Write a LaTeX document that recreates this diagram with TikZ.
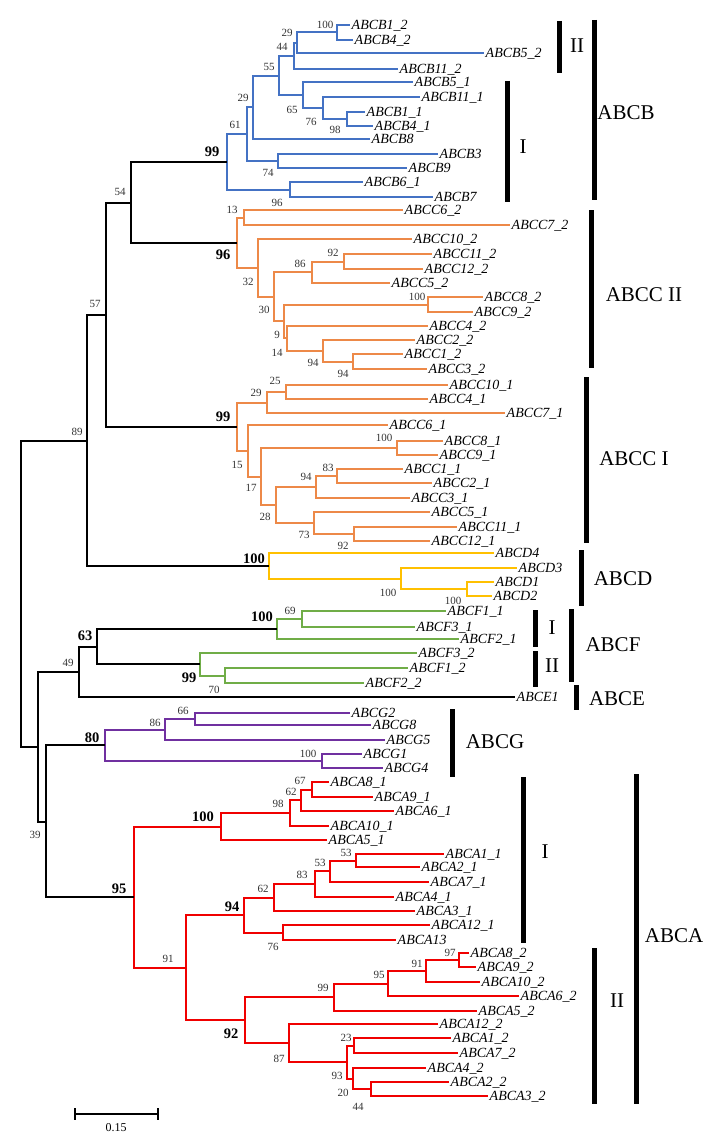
\documentclass[tikz,border=0pt]{standalone}
\usepackage{fontspec}
\setmainfont{Liberation Serif}
\usepackage{xcolor}
\usepackage{tikz}

\definecolor{abcb}{RGB}{68,114,196}
\definecolor{abcc}{RGB}{237,137,72}
\definecolor{abcd}{RGB}{255,192,0}
\definecolor{abcf}{RGB}{112,173,71}
\definecolor{abcg}{RGB}{112,48,160}
\definecolor{abca}{RGB}{240,0,0}

\tikzset{
  leaf/.style = {anchor=west, inner sep=1.5pt, text depth=0pt, font=\fontsize{14}{16}\selectfont\itshape},
  boot/.style = {inner sep=0pt, text=black!80, font=\fontsize{11}{12}\selectfont},
  bootb/.style = {inner sep=0pt, font=\fontsize{14.5}{16}\selectfont\bfseries},
  clade/.style = {inner sep=0pt, font=\fontsize{21}{24}\selectfont},
  bar/.style = {line width=5pt},
  branch/.style = {line width=1.8pt},
}

\begin{document}
\begin{tikzpicture}[x=1pt, y=-1pt]
\useasboundingbox (0,0) rectangle (711,1142);

% ABCB
\node[leaf] (b1-2) at (350,25) {ABCB1\_2};
\node[leaf] (b4-2) at (353,40) {ABCB4\_2};
\node[leaf] (b5-2) at (484,53) {ABCB5\_2};
\node[leaf] (b11-2) at (398,69) {ABCB11\_2};
\node[leaf] (b5-1) at (413,82) {ABCB5\_1};
\node[leaf] (b11-1) at (420,97) {ABCB11\_1};
\node[leaf] (b1-1) at (365,112) {ABCB1\_1};
\node[leaf] (b4-1) at (373,126) {ABCB4\_1};
\node[leaf] (b8) at (370,139) {ABCB8};
\node[leaf] (b3) at (438,154) {ABCB3};
\node[leaf] (b9) at (407,168) {ABCB9};
\node[leaf] (b6-1) at (363,182) {ABCB6\_1};
\node[leaf] (b7) at (433,197) {ABCB7};
\coordinate (nb100) at (337,32);
\coordinate (nb29b) at (297,43);
\coordinate (nb44) at (294,56);
\coordinate (nb98) at (347,119);
\coordinate (nb76) at (323,108);
\coordinate (nb65) at (303,95);
\coordinate (nb55) at (279,76);
\coordinate (nb29) at (253,107);
\coordinate (nb74) at (278,161);
\coordinate (nb61) at (247,134);
\coordinate (nb96) at (290,190);
\coordinate (nb99) at (227,162);
\draw[branch, abcb]
  (nb100) |- (b1-2.west) (nb100) |- (b4-2.west)
  (nb29b) |- (nb100) (nb29b) |- (b5-2.west)
  (nb44) |- (nb29b) (nb44) |- (b11-2.west)
  (nb98) |- (b1-1.west) (nb98) |- (b4-1.west)
  (nb76) |- (b11-1.west) (nb76) |- (nb98)
  (nb65) |- (b5-1.west) (nb65) |- (nb76)
  (nb55) |- (nb44) (nb55) |- (nb65)
  (nb29) |- (nb55) (nb29) |- (b8.west)
  (nb74) |- (b3.west) (nb74) |- (b9.west)
  (nb61) |- (nb29) (nb61) |- (nb74)
  (nb96) |- (b6-1.west) (nb96) |- (b7.west)
  (nb99) |- (nb61) (nb99) |- (nb96);
\node[boot] (snb100) at (325,25) {100};
\node[boot] (snb29b) at (287,33) {29};
\node[boot] (snb44) at (282,47) {44};
\node[boot] (snb55) at (269,67) {55};
\node[boot] (snb29) at (243,98) {29};
\node[boot] (snb65) at (292,110) {65};
\node[boot] (snb76) at (311,122) {76};
\node[boot] (snb98) at (335,130) {98};
\node[boot] (snb61) at (235,125) {61};
\node[boot] (snb74) at (268,173) {74};
\node[boot] (snb96) at (277,203) {96};
\node[bootb] (snb99) at (212,152) {99};

% ABCC II
\node[leaf] (c6-2) at (403,210) {ABCC6\_2};
\node[leaf] (c7-2) at (510,225) {ABCC7\_2};
\node[leaf] (c10-2) at (412,239) {ABCC10\_2};
\node[leaf] (c11-2) at (432,254) {ABCC11\_2};
\node[leaf] (c12-2) at (423,269) {ABCC12\_2};
\node[leaf] (c5-2) at (390,283) {ABCC5\_2};
\node[leaf] (c8-2) at (483,297) {ABCC8\_2};
\node[leaf] (c9-2) at (473,312) {ABCC9\_2};
\node[leaf] (c4-2) at (428,326) {ABCC4\_2};
\node[leaf] (c2-2) at (415,340) {ABCC2\_2};
\node[leaf] (c1-2) at (403,354) {ABCC1\_2};
\node[leaf] (c3-2) at (427,369) {ABCC3\_2};
\coordinate (nc13) at (244,218);
\coordinate (nc92) at (344,262);
\coordinate (nc86) at (312,272);
\coordinate (nc100) at (428,305);
\coordinate (nc94b) at (353,362);
\coordinate (nc94) at (323,351);
\coordinate (nc14) at (287,338);
\coordinate (nc9) at (284,321);
\coordinate (nc30) at (274,297);
\coordinate (nc32) at (258,268);
\coordinate (nc96) at (237,243);
\draw[branch, abcc]
  (nc13) |- (c6-2.west) (nc13) |- (c7-2.west)
  (nc92) |- (c11-2.west) (nc92) |- (c12-2.west)
  (nc86) |- (nc92) (nc86) |- (c5-2.west)
  (nc100) |- (c8-2.west) (nc100) |- (c9-2.west)
  (nc94b) |- (c1-2.west) (nc94b) |- (c3-2.west)
  (nc94) |- (c2-2.west) (nc94) |- (nc94b)
  (nc14) |- (c4-2.west) (nc14) |- (nc94)
  (nc9) |- (nc100) (nc9) |- (nc14)
  (nc30) |- (nc86) (nc30) |- (nc9)
  (nc32) |- (c10-2.west) (nc32) |- (nc30)
  (nc96) |- (nc13) (nc96) |- (nc32);
\node[boot] (snc13) at (232,210) {13};
\node[bootb] (snc96) at (223,255) {96};
\node[boot] (snc32) at (248,282) {32};
\node[boot] (snc86) at (300,264) {86};
\node[boot] (snc92) at (333,253) {92};
\node[boot] (snc30) at (264,310) {30};
\node[boot] (snc100) at (417,297) {100};
\node[boot] (snc9) at (277,335) {9};
\node[boot] (snc14) at (277,353) {14};
\node[boot] (snc94) at (313,363) {94};
\node[boot] (snc94b) at (343,374) {94};

% ABCC I
\node[leaf] (c10-1) at (448,385) {ABCC10\_1};
\node[leaf] (c4-1) at (428,399) {ABCC4\_1};
\node[leaf] (c7-1) at (505,413) {ABCC7\_1};
\node[leaf] (c6-1) at (388,425) {ABCC6\_1};
\node[leaf] (c8-1) at (443,441) {ABCC8\_1};
\node[leaf] (c9-1) at (438,455) {ABCC9\_1};
\node[leaf] (c1-1) at (403,469) {ABCC1\_1};
\node[leaf] (c2-1) at (432,483) {ABCC2\_1};
\node[leaf] (c3-1) at (410,498) {ABCC3\_1};
\node[leaf] (c5-1) at (430,512) {ABCC5\_1};
\node[leaf] (c11-1) at (457,527) {ABCC11\_1};
\node[leaf] (c12-1) at (430,541) {ABCC12\_1};
\coordinate (nd25) at (286,392);
\coordinate (nd29) at (267,403);
\coordinate (nd100) at (397,448);
\coordinate (nd83) at (337,476);
\coordinate (nd94) at (316,487);
\coordinate (nd92) at (354,534);
\coordinate (nd73) at (314,523);
\coordinate (nd28) at (276,505);
\coordinate (nd17) at (261,477);
\coordinate (nd15) at (248,451);
\coordinate (nd99) at (237,427);
\draw[branch, abcc]
  (nd25) |- (c10-1.west) (nd25) |- (c4-1.west)
  (nd29) |- (nd25) (nd29) |- (c7-1.west)
  (nd100) |- (c8-1.west) (nd100) |- (c9-1.west)
  (nd83) |- (c1-1.west) (nd83) |- (c2-1.west)
  (nd94) |- (nd83) (nd94) |- (c3-1.west)
  (nd92) |- (c11-1.west) (nd92) |- (c12-1.west)
  (nd73) |- (c5-1.west) (nd73) |- (nd92)
  (nd28) |- (nd94) (nd28) |- (nd73)
  (nd17) |- (nd100) (nd17) |- (nd28)
  (nd15) |- (c6-1.west) (nd15) |- (nd17)
  (nd99) |- (nd29) (nd99) |- (nd15);
\node[boot] (snd25) at (275,381) {25};
\node[boot] (snd29) at (256,393) {29};
\node[bootb] (snd99) at (223,417) {99};
\node[boot] (snd15) at (237,465) {15};
\node[boot] (snd100) at (384,438) {100};
\node[boot] (snd17) at (251,488) {17};
\node[boot] (snd83) at (328,468) {83};
\node[boot] (snd94) at (306,477) {94};
\node[boot] (snd28) at (265,517) {28};
\node[boot] (snd73) at (304,535) {73};
\node[boot] (snd92) at (343,546) {92};

% ABCD
\node[leaf] (d4) at (494,553) {ABCD4};
\node[leaf] (d3) at (517,568) {ABCD3};
\node[leaf] (d1) at (494,582) {ABCD1};
\node[leaf] (d2) at (492,596) {ABCD2};
\coordinate (nD2) at (467,589);
\coordinate (nD1) at (401,579);
\coordinate (nD) at (269,566);
\draw[branch, abcd]
  (nD2) |- (d1.west) (nD2) |- (d2.west)
  (nD1) |- (d3.west) (nD1) |- (nD2)
  (nD) |- (d4.west) (nD) |- (nD1);
\node[bootb] (snD) at (254,559) {100};
\node[boot] (snD1) at (388,593) {100};
\node[boot] (snD2) at (453,600.5) {100};

% ABCF, ABCE
\node[leaf] (f1-1) at (446,611) {ABCF1\_1};
\node[leaf] (f3-1) at (415,627) {ABCF3\_1};
\node[leaf] (f2-1) at (459,639) {ABCF2\_1};
\node[leaf] (f3-2) at (417,653) {ABCF3\_2};
\node[leaf] (f1-2) at (408,668) {ABCF1\_2};
\node[leaf] (f2-2) at (364,683) {ABCF2\_2};
\node[leaf] (e1) at (515,697) {ABCE1};
\coordinate (nf69) at (302,619);
\coordinate (nf100) at (277,629);
\coordinate (nf70) at (225,676);
\coordinate (nf99) at (200,664);
\coordinate (nf63) at (97,647);
\coordinate (nf49) at (79,672);
\draw[branch, abcf]
  (nf69) |- (f1-1.west) (nf69) |- (f3-1.west)
  (nf100) |- (nf69) (nf100) |- (f2-1.west)
  (nf70) |- (f1-2.west) (nf70) |- (f2-2.west)
  (nf99) |- (f3-2.west) (nf99) |- (nf70);
\node[bootb] (snf100) at (262,617) {100};
\node[boot] (snf69) at (290,611) {69};
\node[bootb] (snf99) at (189,678) {99};
\node[boot] (snf70) at (214,690) {70};
\node[bootb] (snf63) at (85,636) {63};
\node[boot] (snf49) at (68,663) {49};

% ABCG
\node[leaf] (g2) at (350,713) {ABCG2};
\node[leaf] (g8) at (371,725) {ABCG8};
\node[leaf] (g5) at (385,740) {ABCG5};
\node[leaf] (g1) at (362,754) {ABCG1};
\node[leaf] (g4) at (383,768) {ABCG4};
\coordinate (ng66) at (195,719);
\coordinate (ng86) at (165,730);
\coordinate (ng100) at (322,761);
\coordinate (ng80) at (105,745);
\draw[branch, abcg]
  (ng66) |- (g2.west) (ng66) |- (g8.west)
  (ng86) |- (ng66) (ng86) |- (g5.west)
  (ng100) |- (g1.west) (ng100) |- (g4.west)
  (ng80) |- (ng86) (ng80) |- (ng100);
\node[boot] (sng66) at (183,711) {66};
\node[boot] (sng86) at (155,723) {86};
\node[bootb] (sng80) at (92,738) {80};
\node[boot] (sng100) at (308,754) {100};

% ABCA
\node[leaf] (a8-1) at (329,782) {ABCA8\_1};
\node[leaf] (a9-1) at (373,797) {ABCA9\_1};
\node[leaf] (a6-1) at (394,811) {ABCA6\_1};
\node[leaf] (a10-1) at (329,826) {ABCA10\_1};
\node[leaf] (a5-1) at (327,840) {ABCA5\_1};
\node[leaf] (a1-1) at (444,854) {ABCA1\_1};
\node[leaf] (a2-1) at (420,867) {ABCA2\_1};
\node[leaf] (a7-1) at (429,882) {ABCA7\_1};
\node[leaf] (a4-1) at (394,897) {ABCA4\_1};
\node[leaf] (a3-1) at (415,911) {ABCA3\_1};
\node[leaf] (a12-1) at (430,925) {ABCA12\_1};
\node[leaf] (a13) at (396,940) {ABCA13};
\node[leaf] (a8-2) at (469,953) {ABCA8\_2};
\node[leaf] (a9-2) at (476,967) {ABCA9\_2};
\node[leaf] (a10-2) at (480,982) {ABCA10\_2};
\node[leaf] (a6-2) at (519,996) {ABCA6\_2};
\node[leaf] (a5-2) at (477,1011) {ABCA5\_2};
\node[leaf] (a12-2) at (438,1024) {ABCA12\_2};
\node[leaf] (a1-2) at (451,1038) {ABCA1\_2};
\node[leaf] (a7-2) at (458,1053) {ABCA7\_2};
\node[leaf] (a4-2) at (426,1068) {ABCA4\_2};
\node[leaf] (a2-2) at (449,1082) {ABCA2\_2};
\node[leaf] (a3-2) at (488,1096) {ABCA3\_2};
\coordinate (na67) at (312,790);
\coordinate (na62) at (301,800);
\coordinate (na98) at (290,813);
\coordinate (na100) at (221,827);
\coordinate (na53b) at (356,861);
\coordinate (na53) at (330,871);
\coordinate (na83) at (315,884);
\coordinate (na62b) at (274,898);
\coordinate (na76) at (283,933);
\coordinate (na94) at (244,915);
\coordinate (na97) at (459,960);
\coordinate (na91b) at (426,971);
\coordinate (na95b) at (388,984);
\coordinate (na99) at (334,997);
\coordinate (na23) at (354,1046);
\coordinate (na44) at (371,1089);
\coordinate (na20) at (353,1079);
\coordinate (na93) at (347,1062);
\coordinate (na87) at (289,1043);
\coordinate (na92) at (245,1020);
\coordinate (na91) at (186,968);
\coordinate (na95) at (134,897);
\draw[branch, abca]
  (na67) |- (a8-1.west) (na67) |- (a9-1.west)
  (na62) |- (na67) (na62) |- (a6-1.west)
  (na98) |- (na62) (na98) |- (a10-1.west)
  (na100) |- (na98) (na100) |- (a5-1.west)
  (na53b) |- (a1-1.west) (na53b) |- (a2-1.west)
  (na53) |- (na53b) (na53) |- (a7-1.west)
  (na83) |- (na53) (na83) |- (a4-1.west)
  (na62b) |- (na83) (na62b) |- (a3-1.west)
  (na76) |- (a12-1.west) (na76) |- (a13.west)
  (na94) |- (na62b) (na94) |- (na76)
  (na97) |- (a8-2.west) (na97) |- (a9-2.west)
  (na91b) |- (na97) (na91b) |- (a10-2.west)
  (na95b) |- (na91b) (na95b) |- (a6-2.west)
  (na99) |- (na95b) (na99) |- (a5-2.west)
  (na23) |- (a1-2.west) (na23) |- (a7-2.west)
  (na44) |- (a2-2.west) (na44) |- (a3-2.west)
  (na20) |- (a4-2.west) (na20) |- (na44)
  (na93) |- (na23) (na93) |- (na20)
  (na87) |- (a12-2.west) (na87) |- (na93)
  (na92) |- (na99) (na92) |- (na87)
  (na91) |- (na94) (na91) |- (na92)
  (na95) |- (na100) (na95) |- (na91);
\node[boot] (sna67) at (300,781) {67};
\node[boot] (sna62) at (291,792) {62};
\node[boot] (sna98) at (278,804) {98};
\node[bootb] (sna100) at (203,817) {100};
\node[boot] (sna53b) at (346,853) {53};
\node[boot] (sna53) at (320,863) {53};
\node[boot] (sna83) at (302,875) {83};
\node[boot] (sna62b) at (263,889) {62};
\node[bootb] (sna94) at (232,907) {94};
\node[boot] (sna76) at (273,947) {76};
\node[bootb] (sna95) at (119,889) {95};
\node[boot] (sna91) at (168,959) {91};
\node[boot] (sna97) at (450,953) {97};
\node[boot] (sna91b) at (417,964) {91};
\node[boot] (sna95b) at (379,975) {95};
\node[boot] (sna99) at (323,988) {99};
\node[bootb] (sna92) at (231,1034) {92};
\node[boot] (sna87) at (279,1059) {87};
\node[boot] (sna23) at (346,1038) {23};
\node[boot] (sna93) at (337,1076) {93};
\node[boot] (sna20) at (343,1093) {20};
\node[boot] (sna44) at (358,1107) {44};

% backbone
\coordinate (root) at (21,594);
\coordinate (n89) at (87,441);
\coordinate (n57) at (106,315);
\coordinate (n54) at (131,203);
\coordinate (nlow) at (38,747);
\coordinate (n39) at (46,822);
\draw[branch]
  (root) |- (n89) (root) |- (nlow)
  (n89) |- (n57) (n89) |- (nD)
  (n57) |- (n54) (n57) |- (nd99)
  (n54) |- (nb99) (n54) |- (nc96)
  (nlow) |- (nf49) (nlow) |- (n39)
  (nf49) |- (nf63) (nf49) |- (e1.west)
  (nf63) |- (nf100) (nf63) |- (nf99)
  (n39) |- (ng80) (n39) |- (na95);
\node[boot] (sn89) at (77,432) {89};
\node[boot] (sn57) at (95,304) {57};
\node[boot] (sn54) at (120,192) {54};
\node[boot] (sn39) at (35,835) {39};

% clade bars
\draw[bar] (559,21) -- (559,73);
\draw[bar] (507,81) -- (507,202);
\draw[bar] (594,20) -- (594,200);
\draw[bar] (591,210) -- (591,368);
\draw[bar] (586,377) -- (586,543);
\draw[bar] (581,550) -- (581,606);
\draw[bar] (535,610) -- (535,647);
\draw[bar] (535,651) -- (535,687);
\draw[bar] (571,609) -- (571,682);
\draw[bar] (576,685) -- (576,710);
\draw[bar] (452,709) -- (452,777);
\draw[bar] (523,777) -- (523,943);
\draw[bar] (594,948) -- (594,1104);
\draw[bar] (636,774) -- (636,1104);
\node[clade] (kb2) at (577,46) {II};
\node[clade] (kb1) at (523,147) {I};
\node[clade] (kb) at (626,113) {ABCB};
\node[clade] (kc2) at (644,295) {ABCC II};
\node[clade] (kc1) at (634,459) {ABCC I};
\node[clade] (kd) at (623,579) {ABCD};
\node[clade] (kf1) at (552,628) {I};
\node[clade] (kf2) at (552,666) {II};
\node[clade] (kf) at (613,645) {ABCF};
\node[clade] (ke) at (617,699) {ABCE};
\node[clade] (kg) at (495,742) {ABCG};
\node[clade] (ka1) at (545,852) {I};
\node[clade] (ka2) at (617,1001) {II};
\node[clade] (ka) at (674,936) {ABCA};

% scale
\coordinate (s0) at (74,1114);
\coordinate (s1) at (159,1114);
\draw[branch, |-|] (s0) -- (s1);
\node[boot, text=black, font=\fontsize{12}{14}\selectfont] (slab) at (116,1128) {0.15};
\end{tikzpicture}
\end{document}
